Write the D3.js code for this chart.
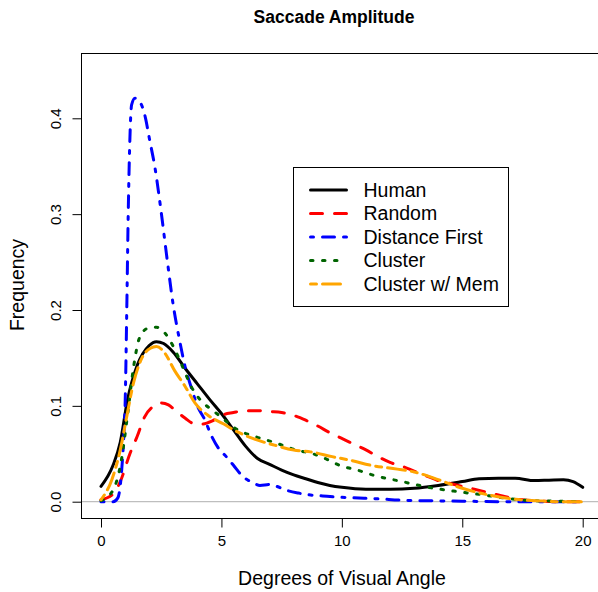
<!DOCTYPE html>
<html>
<head>
<meta charset="utf-8">
<script src="https://cdn.jsdelivr.net/npm/d3@7"></script>
<style>
  html, body { margin: 0; padding: 0; background: #fff; }
  svg { display: block; font-family: "Liberation Sans", Arial, Helvetica, sans-serif; }
</style>
</head>
<body>
<div id="chart"></div>
<script>
// ---- data ----
const xTicks = [0, 5, 10, 15, 20];
const yTicks = [0, 0.1, 0.2, 0.3, 0.4];
const seriesNames = ["Human", "Random", "Distance First", "Cluster", "Cluster w/ Mem"];

const humanX = [0, 0.5, 0.8, 1.1, 1.5, 2, 2.3, 2.6, 3, 3.5, 4, 4.5, 5, 5.5, 6, 6.5, 7, 7.5, 8, 8.5, 9, 9.5, 10, 11, 12, 13, 14, 15, 15.7, 16.5, 17.2, 18, 18.6, 19.2, 19.6, 20];
const humanY = [0.016, 0.038, 0.062, 0.106, 0.142, 0.163, 0.167, 0.165, 0.156, 0.139, 0.123, 0.107, 0.092, 0.075, 0.058, 0.045, 0.039, 0.033, 0.028, 0.024, 0.020, 0.017, 0.015, 0.013, 0.013, 0.014, 0.017, 0.021, 0.024, 0.0245, 0.0245, 0.022, 0.0225, 0.023, 0.021, 0.015];

const randomX = [0, 0.5, 0.8, 1.2, 1.5, 1.8, 2.2, 2.5, 2.8, 3.1, 3.5, 3.8, 4.2, 4.6, 5, 5.5, 6, 6.5, 7, 7.5, 8, 8.5, 9, 9.5, 10, 10.5, 11, 11.5, 12, 12.5, 13, 13.5, 14, 14.5, 15, 15.5, 16, 16.5, 17, 17.5, 18, 19, 20];
const randomY = [0.002, 0.008, 0.021, 0.05, 0.068, 0.088, 0.1, 0.103, 0.101, 0.095, 0.087, 0.082, 0.081, 0.084, 0.09, 0.093, 0.095, 0.095, 0.094, 0.093, 0.09, 0.085, 0.079, 0.072, 0.066, 0.06, 0.054, 0.047, 0.041, 0.037, 0.032, 0.027, 0.022, 0.019, 0.016, 0.013, 0.010, 0.007, 0.004, 0.002, 0.001, 0, 0];

const distX = [0, 0.5, 0.7, 0.85, 0.95, 1.0, 1.07, 1.13, 1.19, 1.27, 1.41, 1.55, 1.7, 1.85, 2, 2.25, 2.5, 2.75, 3, 3.25, 3.5, 3.75, 4, 4.3, 4.6, 4.9, 5.2, 5.5, 5.9, 6.3, 6.6, 7, 7.3, 7.7, 8.2, 8.7, 9.2, 9.7, 10.5, 11.5, 12.5, 13.5, 15, 17, 20];
const distY = [0, 0, 0.004, 0.03, 0.07, 0.1, 0.2, 0.3, 0.37, 0.414, 0.421, 0.419, 0.413, 0.4, 0.38, 0.347, 0.302, 0.252, 0.205, 0.17, 0.14, 0.119, 0.1, 0.086, 0.068, 0.055, 0.047, 0.038, 0.026, 0.02, 0.017, 0.018, 0.016, 0.012, 0.009, 0.007, 0.006, 0.005, 0.004, 0.003, 0.0015, 0.001, 0.0005, 0, 0];

const clusterX = [0, 0.5, 0.85, 1.1, 1.35, 1.6, 1.95, 2.3, 2.65, 3, 3.35, 3.75, 4.2, 4.6, 5, 5.6, 6.4, 7.3, 8.1, 8.8, 9.4, 10, 10.5, 11.4, 12.5, 13.6, 14.8, 15.9, 17, 18, 19, 20];
const clusterY = [0.001, 0.012, 0.044, 0.09, 0.14, 0.171, 0.181, 0.182, 0.176, 0.162, 0.143, 0.12, 0.104, 0.096, 0.088, 0.076, 0.068, 0.061, 0.054, 0.05, 0.044, 0.037, 0.034, 0.027, 0.021, 0.015, 0.0105, 0.007, 0.003, 0.001, 0.0005, 0];

const memX = [0, 0.45, 0.8, 1.07, 1.35, 1.7, 2.05, 2.3, 2.65, 3.05, 3.5, 3.9, 4.45, 5.1, 5.5, 6.3, 7.2, 8, 8.7, 9.6, 10.4, 11.2, 12.3, 13, 14, 15, 16.1, 17.2, 18.3, 19, 20];
const memY = [0.002, 0.023, 0.054, 0.089, 0.124, 0.15, 0.16, 0.162, 0.155, 0.137, 0.12, 0.103, 0.09, 0.081, 0.075, 0.066, 0.059, 0.054, 0.052, 0.047, 0.043, 0.038, 0.034, 0.031, 0.023, 0.014, 0.007, 0.0025, 0.0007, 0, 0];

const width = 598, height = 592;

// line look per series (R lty 1,2,4,3,6 at lwd 3, round caps)
const colors = ["#000000", "#ff0000", "#0000ff", "#006400", "#ffa500"];
const dashes = [null, "12,12", "3,9,12,9", "2.5,9.5", "6,6,18,6"];

const series = [
  [humanX, humanY], [randomX, randomY], [distX, distY], [clusterX, clusterY], [memX, memY]
].map(([xs, ys], i) => ({
  name: seriesNames[i],
  color: colors[i],
  dash: dashes[i],
  points: xs.map((x, j) => [x, ys[j]])
}));

// ---- scales ----
const x = d3.scaleLinear().domain([0, 20]).range([101, 582.7]);
const y = d3.scaleLinear().domain([0, 0.4]).range([501.7, 118.3]);

const plotLeft = 81.5, plotTop = 53.5, plotBottom = 518.5, plotRight = 602;

const svg = d3.select("#chart")
  .append("svg")
  .attr("width", width)
  .attr("height", height);

// zero reference line
svg.append("line")
  .attr("x1", plotLeft).attr("x2", plotRight)
  .attr("y1", y(0)).attr("y2", y(0))
  .attr("stroke", "#bebebe")
  .attr("stroke-width", 1.2);

// ---- curves ----
const line = d3.line()
  .x(d => x(d[0]))
  .y(d => y(d[1]))
  .curve(d3.curveMonotoneX);

svg.append("g")
  .selectAll("path")
  .data(series)
  .enter()
  .append("path")
  .attr("d", d => line(d.points))
  .attr("fill", "none")
  .attr("stroke", d => d.color)
  .attr("stroke-width", 3)
  .attr("stroke-linecap", "round")
  .attr("stroke-linejoin", "round")
  .attr("stroke-dasharray", d => d.dash);

// ---- box ----
svg.append("rect")
  .attr("x", plotLeft)
  .attr("y", plotTop)
  .attr("width", plotRight - plotLeft)
  .attr("height", plotBottom - plotTop)
  .attr("fill", "none")
  .attr("stroke", "#000")
  .attr("stroke-width", 1);

// ---- axes ----
const xAxis = svg.append("g")
  .attr("transform", `translate(0,${plotBottom})`)
  .call(d3.axisBottom(x).tickValues(xTicks).tickSize(9).tickPadding(8).tickFormat(d3.format("d")));
xAxis.select(".domain").attr("d", `M${x(0)},0H${x(20)}`);

const yAxis = svg.append("g")
  .attr("transform", `translate(${plotLeft},0)`)
  .call(d3.axisLeft(y).tickValues(yTicks).tickSize(9).tickFormat(d3.format(".1f")));
yAxis.select(".domain").attr("d", `M0,${y(0)}V${y(0.4)}`);

svg.selectAll(".tick text")
  .attr("font-family", "Liberation Sans, Arial, sans-serif")
  .attr("font-size", 15)
  .attr("fill", "#000");
svg.selectAll(".tick line").attr("stroke", "#000");

// rotate y tick labels (parallel to axis, like R)
yAxis.selectAll(".tick text")
  .attr("x", null).attr("dy", null)
  .attr("text-anchor", "middle")
  .attr("transform", "translate(-21,0) rotate(-90)");

// ---- titles ----
svg.append("text")
  .attr("x", 334).attr("y", 23)
  .attr("text-anchor", "middle")
  .attr("font-weight", "bold")
  .attr("font-size", 17.5)
  .text("Saccade Amplitude");

svg.append("text")
  .attr("x", 342).attr("y", 585)
  .attr("text-anchor", "middle")
  .attr("font-size", 19.5)
  .text("Degrees of Visual Angle");

svg.append("text")
  .attr("transform", "translate(24,285) rotate(-90)")
  .attr("text-anchor", "middle")
  .attr("font-size", 19.5)
  .text("Frequency");

// ---- legend ----
const legend = svg.append("g").attr("transform", "translate(293.5,167.5)");
legend.append("rect")
  .attr("width", 215).attr("height", 139)
  .attr("fill", "#fff")
  .attr("stroke", "#000");

const rows = legend.selectAll(".row")
  .data(series)
  .enter()
  .append("g")
  .attr("transform", (d, i) => `translate(0,${22.5 + i * 23.5})`);

rows.append("line")
  .attr("x1", 17).attr("x2", 53)
  .attr("stroke", d => d.color)
  .attr("stroke-width", 3)
  .attr("stroke-linecap", "round")
  .attr("stroke-dasharray", d => d.dash);

rows.append("text")
  .attr("x", 70).attr("dy", "0.35em")
  .attr("font-size", 19.5)
  .text(d => d.name);
</script>
</body>
</html>
